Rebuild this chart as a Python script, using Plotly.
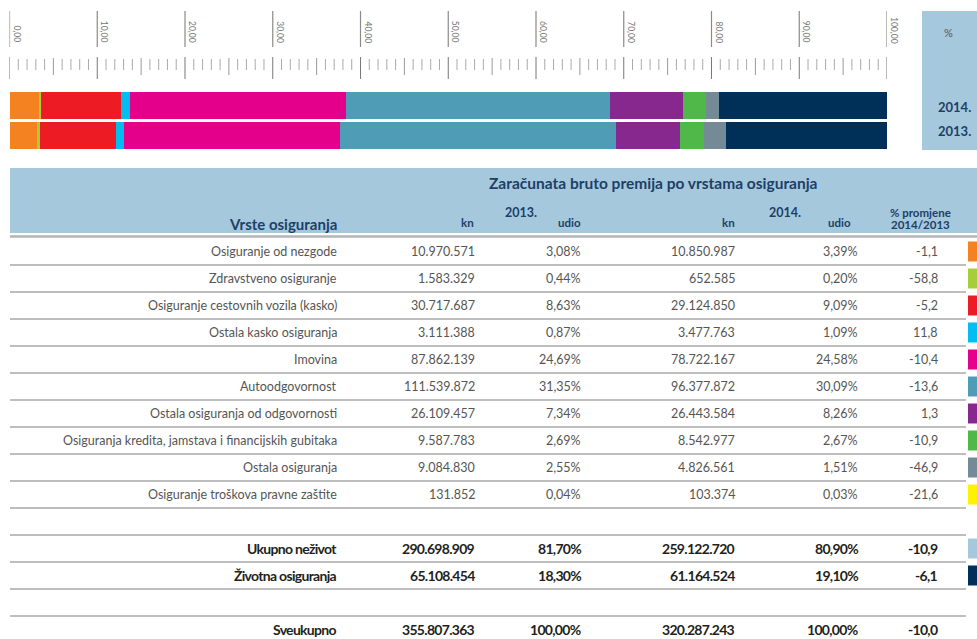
import plotly.graph_objects as go

W, H = 977, 639

# podaci
vrste = [
    "Osiguranje od nezgode",
    "Zdravstveno osiguranje",
    "Osiguranje cestovnih vozila (kasko)",
    "Ostala kasko osiguranja",
    "Imovina",
    "Autoodgovornost",
    "Ostala osiguranja od odgovornosti",
    "Osiguranja kredita, jamstava i financijskih gubitaka",
    "Ostala osiguranja",
    "Osiguranje troškova pravne zaštite",
]
kn_2013 = [10970571, 1583329, 30717687, 3111388, 87862139, 111539872, 26109457, 9587783, 9084830, 131852]
udio_2013 = [3.08, 0.44, 8.63, 0.87, 24.69, 31.35, 7.34, 2.69, 2.55, 0.04]
kn_2014 = [10850987, 652585, 29124850, 3477763, 78722167, 96377872, 26443584, 8542977, 4826561, 103374]
udio_2014 = [3.39, 0.20, 9.09, 1.09, 24.58, 30.09, 8.26, 2.67, 1.51, 0.03]
promjena = [-1.1, -58.8, -5.2, 11.8, -10.4, -13.6, 1.3, -10.9, -46.9, -21.6]
boje = ["#f58220", "#a6ce39", "#ed1c24", "#00bdf2", "#e4008b",
        "#4e9cb5", "#87288e", "#50b848", "#748a96", "#fff200"]

ukupni = ["Ukupno neživot", "Životna osiguranja", "Sveukupno"]
ukupni_kn_2013 = [290698909, 65108454, 355807363]
ukupni_udio_2013 = [81.70, 18.30, 100.00]
ukupni_kn_2014 = [259122720, 61164524, 320287243]
ukupni_udio_2014 = [80.90, 19.10, 100.00]
ukupni_promjena = [-10.9, -6.1, -10.0]
ukupni_boje = ["#a6c8dc", "#003057", None]

godine = ["2014.", "2013."]
skala = list(range(0, 101))

NAVY = "#1d3f68"
SIVA = "#555555"
CRNA = "#231f20"
LINIJA = "#a8a8a8"


def px_x(v):
    return v / W


def px_y(v):
    return 1 - v / H


def fmt_kn(v):
    return f"{v:,}".replace(",", ".")


def fmt_pct(v):
    return f"{v:.2f}".replace(".", ",") + "%"


def fmt_chg(v):
    return f"{v:.1f}".replace(".", ",")


fig = go.Figure()

# slozeni stupci
for naziv, u13, u14, boja in zip(vrste + ["Životna osiguranja"],
                                 udio_2013 + [ukupni_udio_2013[1]],
                                 udio_2014 + [ukupni_udio_2014[1]],
                                 boje + [ukupni_boje[1]]):
    fig.add_trace(go.Bar(
        x=[u14, u13], y=godine, orientation="h", name=naziv,
        marker=dict(color=boja, line=dict(width=0)),
        hoverinfo="name+x",
    ))

shapes = []
annotations = []

# skala na vrhu
for v in skala:
    if v % 10 == 0:
        y0, y1, c = 57, 79, "#777777"
        shapes.append(dict(type="line", xref="x", yref="paper", x0=v, x1=v,
                           y0=px_y(11), y1=px_y(47), line=dict(color="#8a8a8a", width=1.2)))
        lab = f"{v:.2f}".replace(".", ",")
        annotations.append(dict(xref="x", yref="paper", x=v, xshift=7,
                                y=px_y(42 - len(lab) * 2.0), text=lab, textangle=90,
                                xanchor="center", yanchor="middle",
                                showarrow=False, font=dict(size=8.5, color="#777777",
                                                           family="Lato")))
    elif v % 5 == 0:
        y0, y1, c = 58, 75, "#999999"
    else:
        y0, y1, c = 59, 70, "#aaaaaa"
    shapes.append(dict(type="line", xref="x", yref="paper", x0=v, x1=v,
                       y0=px_y(y0), y1=px_y(y1), line=dict(color=c, width=1)))

# okvir s postotkom
shapes.append(dict(type="rect", xref="paper", yref="paper", x0=px_x(922), x1=1,
                   y0=px_y(150), y1=px_y(11), fillcolor="#a6c8dc", line=dict(width=0),
                   layer="below"))
annotations.append(dict(xref="paper", yref="paper", x=px_x(955), y=px_y(32), text="%",
                        yanchor="middle", showarrow=False,
                        font=dict(size=11, color="#555555", family="Lato")))
for g, yy in zip(godine, [107, 131]):
    annotations.append(dict(xref="paper", yref="paper", x=px_x(973), y=px_y(yy), text=g,
                            xanchor="right", yanchor="middle", showarrow=False,
                            font=dict(size=13, color=NAVY, family="Lato", weight="bold")))

# zaglavlje tablice
shapes.append(dict(type="rect", xref="paper", yref="paper", x0=px_x(10), x1=1,
                   y0=px_y(233), y1=px_y(168), fillcolor="#a6c8dc", line=dict(width=0),
                   layer="below"))
shapes.append(dict(type="line", xref="paper", yref="paper", x0=px_x(10), x1=1,
                   y0=px_y(236.5), y1=px_y(236.5), line=dict(color="#b5b5b5", width=2.5)))

def zag(text, x, y, size, anchor="right"):
    annotations.append(dict(xref="paper", yref="paper", x=px_x(x), y=px_y(y), text=text,
                            xanchor=anchor, yanchor="middle", showarrow=False,
                            font=dict(size=size, color=NAVY, family="Lato", weight="bold")))

zag("Zaračunata bruto premija po vrstama osiguranja", 487, 183, 15.5, "left")
zag("Vrste osiguranja", 339, 224, 15)
zag("kn", 476, 223, 11.5)
zag("2013.", 503, 212, 12.5, "left")
zag("udio", 583, 223, 11.5)
zag("kn", 737, 223, 11.5)
zag("2014.", 767, 212, 12.5, "left")
zag("udio", 853, 223, 11.5)
zag("% promjene", 953, 212, 11.5)
zag("2014/2013", 952, 225, 11.5)

# redovi
TOP, KORAK = 238, 27
stupci = [339, 477, 583, 737, 860, 940]


def red(k, vrijednosti, boja_teksta, bold, boja):
    yc = TOP + KORAK * k + KORAK / 2
    for x, t in zip(stupci, vrijednosti):
        if bold:
            f = dict(size=14, color=boja_teksta, family="Lato", weight="bold")
            t = f'<span style="letter-spacing:-0.7px">{t}</span>'
        else:
            f = dict(size=12.5, color=boja_teksta, family="Lato")
        annotations.append(dict(xref="paper", yref="paper", x=px_x(x), y=px_y(yc), text=t,
                                xanchor="right", yanchor="middle", showarrow=False, font=f))
    if boja:
        shapes.append(dict(type="rect", xref="paper", yref="paper", x0=px_x(968), x1=1,
                           y0=px_y(yc + 10), y1=px_y(yc - 10), fillcolor=boja,
                           line=dict(width=0)))


for i in range(len(vrste)):
    red(i, [vrste[i], fmt_kn(kn_2013[i]), fmt_pct(udio_2013[i]), fmt_kn(kn_2014[i]),
            fmt_pct(udio_2014[i]), fmt_chg(promjena[i])], SIVA, False, boje[i])

for j, k in enumerate([11, 12, 14]):
    red(k, [ukupni[j], fmt_kn(ukupni_kn_2013[j]), fmt_pct(ukupni_udio_2013[j]),
            fmt_kn(ukupni_kn_2014[j]), fmt_pct(ukupni_udio_2014[j]),
            fmt_chg(ukupni_promjena[j])], CRNA, True, ukupni_boje[j])

for k in list(range(1, 11)) + [11, 12, 13, 14]:
    yy = TOP + KORAK * k
    shapes.append(dict(type="line", xref="paper", yref="paper", x0=px_x(10), x1=px_x(966),
                       y0=px_y(yy), y1=px_y(yy), line=dict(color=LINIJA, width=1.6)))

fig.update_layout(
    width=W, height=H,
    margin=dict(l=0, r=0, t=0, b=0),
    paper_bgcolor="white", plot_bgcolor="white",
    barmode="stack", bargap=0.1, showlegend=False,
    xaxis=dict(domain=[px_x(9.5), px_x(887)], range=[0, 100], visible=False, fixedrange=True),
    yaxis=dict(domain=[px_y(150), px_y(90)], type="category",
               categoryorder="array", categoryarray=godine[::-1],
               visible=False, fixedrange=True),
    shapes=shapes,
    annotations=annotations,
    font=dict(family="Lato"),
)

fig.write_html("out.html", config={"displayModeBar": False},
               post_script="document.body.style.margin='0px';")
